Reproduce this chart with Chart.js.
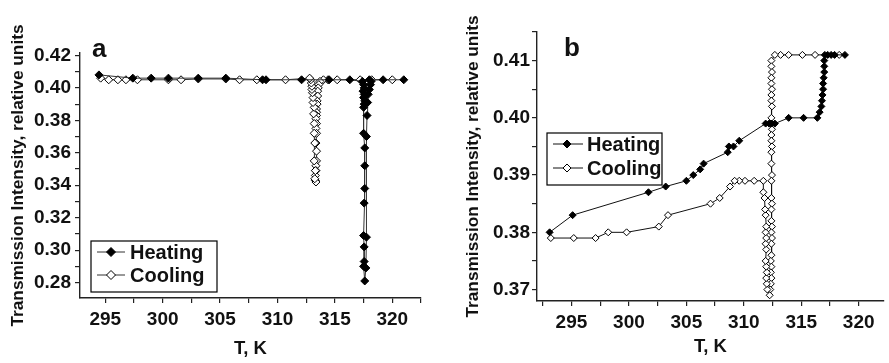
<!DOCTYPE html>
<html>
<head>
<meta charset="utf-8">
<script src="https://cdn.jsdelivr.net/npm/chart.js"></script>
<style>
  html, body { margin: 0; padding: 0; background: #fff; }
  #wrap { position: relative; width: 889px; height: 363px; overflow: hidden; }
  canvas { position: absolute; top: 0; }
  #chartA { left: 0; }
  #chartB { left: 440px; }
</style>
</head>
<body>
<div id="wrap">
  <canvas id="chartA" width="440" height="363"></canvas>
  <canvas id="chartB" width="449" height="363"></canvas>
</div>
<script>
const FONT = '"Liberation Sans", Arial, Helvetica, sans-serif';
const seriesNames = ['Heating', 'Cooling'];

// panel a
const heatTempA = [294.45, 297.4, 299.0, 300.5, 303.1, 305.5, 308.7, 309.0, 312.1, 314.5, 316.3,
  317.4, 317.5, 317.55, 317.45, 317.55, 317.5, 317.6, 317.55, 317.5, 317.5, 317.6, 317.6, 317.6, 317.55, 317.5, 317.55, 317.55, 317.5, 317.6,
  317.7, 317.75, 317.75, 317.8, 317.85, 317.9, 318.0, 318.1, 318.15, 318.0,
  319.2, 321.0];
const heatIntA = [0.408, 0.406, 0.406, 0.406, 0.406, 0.406, 0.405, 0.405, 0.405, 0.405, 0.405,
  0.404, 0.402, 0.400, 0.398, 0.396, 0.394, 0.392, 0.390, 0.388, 0.372, 0.363, 0.352, 0.338, 0.329, 0.309, 0.302, 0.293, 0.290, 0.281,
  0.289, 0.308, 0.370, 0.383, 0.391, 0.396, 0.399, 0.402, 0.404, 0.405,
  0.405, 0.405];
const coolTempA = [320.0, 318.2, 317.2, 315.2, 314.4, 314.0, 313.7, 313.6, 313.55, 313.5, 313.5, 313.45, 313.45, 313.4, 313.4, 313.4,
  313.35, 313.4, 313.35, 313.4, 313.35, 313.4, 313.4, 313.35, 313.35, 313.3, 313.3, 313.35,
  313.25, 313.3, 313.2, 313.25, 313.2, 313.2, 313.15, 313.2, 313.1, 313.1, 313.05, 313.0, 313.0, 312.95, 312.9, 312.8,
  310.7, 308.2, 306.7, 305.5, 303.1, 301.6, 300.5, 297.8, 296.8, 296.1, 295.3, 294.6];
const coolIntA = [0.405, 0.405, 0.405, 0.405, 0.405, 0.405, 0.404, 0.402, 0.400, 0.398, 0.395, 0.392, 0.390, 0.387, 0.385, 0.383,
  0.381, 0.378, 0.375, 0.372, 0.366, 0.361, 0.355, 0.352, 0.349, 0.346, 0.343, 0.342,
  0.344, 0.349, 0.355, 0.366, 0.372, 0.378, 0.384, 0.388, 0.391, 0.394, 0.397, 0.399, 0.401, 0.403, 0.405, 0.406,
  0.405, 0.405, 0.405, 0.4055, 0.4055, 0.405, 0.405, 0.405, 0.405, 0.405, 0.405, 0.406];
const xTicksA = [295, 300, 305, 310, 315, 320];
const yTicksA = [0.28, 0.30, 0.32, 0.34, 0.36, 0.38, 0.40, 0.42];

// panel b
const heatTempB = [293.1, 295.1, 301.7, 303.2, 305.0, 305.6, 306.2, 306.5, 308.6, 308.7, 309.1, 309.6,
  311.9, 312.2, 312.4, 312.7, 313.9, 315.2, 316.4,
  316.6, 316.75, 316.8, 316.85, 316.9, 316.9, 316.95, 317.0, 317.0, 317.0, 317.05,
  317.3, 317.6, 317.9, 318.8];
const heatIntB = [0.380, 0.383, 0.387, 0.388, 0.389, 0.390, 0.391, 0.392, 0.394, 0.395, 0.395, 0.396,
  0.399, 0.399, 0.399, 0.399, 0.400, 0.400, 0.400,
  0.401, 0.402, 0.403, 0.404, 0.405, 0.406, 0.407, 0.408, 0.409, 0.410, 0.411,
  0.411, 0.411, 0.411, 0.411];
const coolTempB = [318.3, 316.2, 315.1, 313.9, 313.2, 312.7,
  312.4, 312.4, 312.45, 312.4, 312.4, 312.45, 312.4, 312.4, 312.45, 312.4, 312.4, 312.45, 312.4, 312.4, 312.45, 312.4, 312.4, 312.45, 312.4,
  312.4, 312.45, 312.4, 312.4, 312.45, 312.4, 312.45, 312.4, 312.4, 312.35, 312.4, 312.35, 312.4, 312.35, 312.3, 312.25,
  312.05, 312.0, 311.95, 312.0, 311.95, 311.9, 311.95, 311.9, 311.95, 311.9, 311.95, 311.9, 311.85, 311.8,
  311.7, 311.7, 310.9, 310.1, 309.6, 309.2, 308.8, 307.9, 307.1, 303.4, 302.6, 299.8, 298.2, 297.1, 295.2, 293.2];
const coolIntB = [0.411, 0.411, 0.411, 0.411, 0.411, 0.411,
  0.410, 0.409, 0.408, 0.407, 0.406, 0.405, 0.404, 0.403, 0.402, 0.400, 0.399, 0.398, 0.397, 0.396, 0.395, 0.394, 0.392, 0.390, 0.389,
  0.386, 0.385, 0.384, 0.382, 0.381, 0.380, 0.379, 0.378, 0.376, 0.375, 0.374, 0.373, 0.372, 0.371, 0.370, 0.369,
  0.370, 0.371, 0.372, 0.373, 0.374, 0.375, 0.377, 0.378, 0.379, 0.380, 0.381, 0.383, 0.384, 0.386,
  0.387, 0.389, 0.389, 0.389, 0.389, 0.389, 0.388, 0.386, 0.385, 0.383, 0.381, 0.380, 0.380, 0.379, 0.379, 0.379];
const xTicksB = [295, 300, 305, 310, 315, 320];
const yTicksB = [0.37, 0.38, 0.39, 0.40, 0.41];

const toPoints = (xs, ys) => xs.map((x, i) => ({ x, y: ys[i] }));

// only the listed values get a label, the rest are minor ticks
function majorLabel(list, digits) {
  return (value) => {
    const hit = list.find((t) => Math.abs(t - value) < 1e-6);
    return hit === undefined ? '' : hit.toFixed(digits);
  };
}

function diamond(ctx, x, y, r, fill) {
  ctx.beginPath();
  ctx.moveTo(x - r, y);
  ctx.lineTo(x, y - r);
  ctx.lineTo(x + r, y);
  ctx.lineTo(x, y + r);
  ctx.closePath();
  ctx.fillStyle = fill;
  ctx.fill();
  ctx.lineWidth = 1;
  ctx.strokeStyle = '#000';
  ctx.stroke();
}

// panel letter + boxed legend drawn inside the plot
const panelDecor = {
  id: 'panelDecor',
  afterDraw(chart, args, opts) {
    const ctx = chart.ctx;
    ctx.save();
    ctx.font = `bold 26px ${FONT}`;
    ctx.fillStyle = '#111';
    ctx.textBaseline = 'alphabetic';
    ctx.textAlign = 'left';
    ctx.fillText(opts.letter, opts.letterX, opts.letterY);

    const b = opts.box;
    ctx.fillStyle = '#fff';
    ctx.fillRect(b.x, b.y, b.w, b.h);
    ctx.lineWidth = 1.2;
    ctx.strokeStyle = '#000';
    ctx.strokeRect(b.x, b.y, b.w, b.h);

    chart.data.datasets.forEach((ds, i) => {
      const y = opts.rowY[i];
      ctx.beginPath();
      ctx.moveTo(opts.lineX[0], y);
      ctx.lineTo(opts.lineX[1], y);
      ctx.lineWidth = 1;
      ctx.strokeStyle = ds.borderColor;
      ctx.stroke();
      diamond(ctx, opts.markX, y, opts.markR, ds.pointBackgroundColor);
      ctx.font = `bold 20px ${FONT}`;
      ctx.fillStyle = '#111';
      ctx.textBaseline = 'middle';
      ctx.fillText(ds.label, opts.textX, y + 1);
    });
    ctx.restore();
  },
};

function makePanel(canvasId, cfg) {
  const tickFont = { family: FONT, size: 19, weight: 'bold' };
  const axisGrid = { display: true, drawOnChartArea: false, drawTicks: true, tickLength: 5, tickColor: '#222', lineWidth: 1.2 };
  const axisBorder = { display: true, color: '#222', width: 1.4 };

  const datasets = cfg.series.map((s, i) => ({
    label: seriesNames[i],
    data: toPoints(s.x, s.y),
    showLine: true,
    borderColor: cfg.lineColor,
    borderWidth: 1,
    pointStyle: 'rectRot',
    pointRadius: cfg.markR,
    pointBackgroundColor: i === 0 ? '#000' : '#fff',
    pointBorderColor: '#000',
    pointBorderWidth: 1,
  }));

  return new Chart(document.getElementById(canvasId), {
    type: 'scatter',
    data: { datasets },
    options: {
      responsive: false,
      animation: false,
      layout: { padding: cfg.padding },
      scales: {
        x: {
          type: 'linear',
          min: cfg.xMin,
          max: cfg.xMax,
          grid: axisGrid,
          border: axisBorder,
          ticks: {
            stepSize: 2.5,
            autoSkip: false,
            includeBounds: false,
            maxRotation: 0,
            padding: cfg.xTickPad,
            color: '#111',
            font: tickFont,
            callback: majorLabel(cfg.xTicks, 0),
          },
          title: { display: true, text: 'T, K', color: '#111', font: { family: FONT, size: 18.5, weight: 'bold' }, padding: { top: 0, bottom: cfg.xTitlePad } },
          afterFit: (scale) => { scale.height = cfg.xHeight; },
        },
        y: {
          type: 'linear',
          min: cfg.yMin,
          max: cfg.yMax,
          grid: axisGrid,
          border: axisBorder,
          ticks: {
            stepSize: cfg.yStep,
            autoSkip: false,
            includeBounds: false,
            padding: cfg.yTickPad,
            color: '#111',
            font: tickFont,
            callback: majorLabel(cfg.yTicks, 2),
          },
          title: { display: true, text: 'Transmission Intensity, relative units', color: '#111', font: { family: FONT, size: 17.3, weight: 'bold' }, padding: { top: cfg.yTitlePad, bottom: 0 } },
          afterFit: (scale) => { scale.width = cfg.yWidth; },
        },
      },
      plugins: {
        legend: { display: false },
        tooltip: { enabled: false },
        panelDecor: cfg.decor,
      },
    },
    plugins: [panelDecor],
  });
}

makePanel('chartA', {
  series: [{ x: heatTempA, y: heatIntA }, { x: coolTempA, y: coolIntA }],
  lineColor: '#333',
  markR: 4,
  xMin: 292.8, xMax: 322.5, xTicks: xTicksA,
  yMin: 0.2705, yMax: 0.4215, yStep: 0.01, yTicks: yTicksA,
  padding: { left: 0, right: 19, top: 53, bottom: 0 },
  yWidth: 80, xHeight: 65,
  xTickPad: 5, yTickPad: 4, xTitlePad: 3, yTitlePad: 8,
  decor: {
    letter: 'a', letterX: 92, letterY: 57,
    box: { x: 91, y: 241, w: 126, h: 51 },
    rowY: [252, 275], lineX: [97, 125], markX: 111, markR: 4.5, textX: 130,
  },
});

makePanel('chartB', {
  series: [{ x: heatTempB, y: heatIntB }, { x: coolTempB, y: coolIntB }],
  lineColor: '#111',
  markR: 3.5,
  xMin: 292, xMax: 322.2, xTicks: xTicksB,
  yMin: 0.368, yMax: 0.415, yStep: 0.005, yTicks: yTicksB,
  padding: { left: 0, right: 2, top: 32, bottom: 0 },
  yWidth: 97, xHeight: 62,
  xTickPad: 5, yTickPad: 2, xTitlePad: 5, yTitlePad: 23,
  decor: {
    letter: 'b', letterX: 124, letterY: 56,
    box: { x: 107, y: 133, w: 115, h: 52 },
    rowY: [144, 168], lineX: [113, 143], markX: 127, markR: 4, textX: 147,
  },
});
</script>
</body>
</html>
